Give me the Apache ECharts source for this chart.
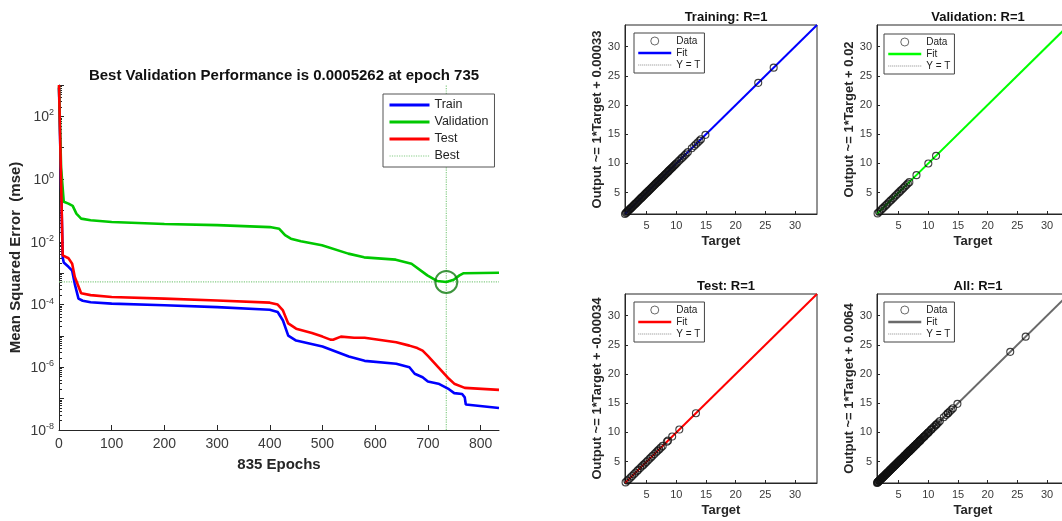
<!DOCTYPE html>
<html><head><meta charset="utf-8">
<script src="https://cdn.jsdelivr.net/npm/echarts@6/dist/echarts.min.js"></script>
<style>html,body{margin:0;padding:0;background:#fff}#c{width:1062px;height:521px}</style>
</head><body><div id="c"></div>
<script>
// ---------- performance plot data ----------
const trainEpochs = [0, 7, 9, 18, 25, 30, 37, 45, 60, 100, 200, 300, 400, 415, 425, 435, 450, 500, 550, 580, 640, 665, 675, 690, 700, 720, 740, 750, 765, 770, 772, 835];
const trainMSE = [800, 3.2e-3, 2.2e-3, 1.6e-3, 1.2e-3, 4.5e-4, 1.55e-4, 1.32e-4, 1.18e-4, 1.07e-4, 9.5e-5, 8.3e-5, 6.8e-5, 5.8e-5, 3.1e-5, 1.02e-5, 7.1e-6, 4.6e-6, 2.2e-6, 1.6e-6, 1.3e-6, 1.0e-6, 6.2e-7, 4.8e-7, 3.5e-7, 3.0e-7, 2.0e-7, 1.5e-7, 1.4e-7, 1.1e-7, 6.5e-8, 5.0e-8];
const valEpochs = [0, 4, 7, 9, 18, 26, 33, 42, 60, 100, 200, 300, 400, 418, 429, 440, 459, 499, 549, 579, 639, 669, 699, 718, 735, 749, 760, 768, 835];
const valMSE = [900, 2.3, 2.0, 0.19, 0.165, 0.14, 0.079, 0.055, 0.049, 0.043, 0.037, 0.034, 0.0295, 0.026, 0.0163, 0.0126, 0.0105, 0.0078, 0.0042, 0.0032, 0.0027, 0.002, 0.00085, 0.00056, 0.000526, 0.00062, 0.00085, 0.001, 0.00103];
const testEpochs = [0, 7, 10, 18, 25, 30, 42, 60, 100, 200, 300, 400, 415, 425, 435, 450, 480, 500, 515, 520, 535, 560, 580, 640, 665, 680, 690, 700, 720, 740, 750, 770, 835];
const testMSE = [1000, 3.7e-3, 3.5e-3, 3.0e-3, 2.0e-3, 7.6e-4, 2.3e-4, 2.0e-4, 1.74e-4, 1.55e-4, 1.35e-4, 1.15e-4, 1.0e-4, 6.5e-5, 2.5e-5, 1.7e-5, 1.23e-5, 9.5e-6, 7.6e-6, 7.5e-6, 9.5e-6, 8.7e-6, 8.7e-6, 6.3e-6, 4.9e-6, 4.1e-6, 3.4e-6, 2.3e-6, 1.0e-6, 4.3e-7, 3.0e-7, 2.2e-7, 1.9e-7];
const bestEpoch = 735;
const bestPerf = 0.0005262;
const totalEpochs = 835;
const epochTicks = [0, 100, 200, 300, 400, 500, 600, 700, 800];
const mseLabelExps = [-8, -6, -4, -2, 0, 2];
const mseRange = [1e-8, 1e3];

// ---------- regression plot data ----------
const trainTargets = [1.35,1.5,1.62,1.75,1.86,1.98,2.1,2.22,2.35,2.47,2.6,2.71,2.84,2.96,3.08,3.2,3.33,3.45,3.57,3.7,3.82,3.94,4.06,4.19,4.31,4.43,4.56,4.68,4.8,4.93,5.05,5.17,5.3,5.42,5.55,5.67,5.8,5.92,6.05,6.18,6.3,6.43,6.55,6.68,6.8,6.93,7.06,7.18,7.31,7.44,7.56,7.69,7.82,7.95,8.07,8.2,8.33,8.46,8.6,8.73,8.86,9.0,9.13,9.27,9.4,9.55,9.7,9.85,10.0,10.2,10.45,10.7,10.95,11.2,11.45,11.7,11.95,12.6,13.0,13.3,13.6,13.9,14.15,14.9,23.8,26.4];
const valTargets = [1.45,1.7,1.95,2.2,2.4,2.65,2.9,3.1,3.35,3.6,3.8,4.05,4.3,4.55,4.8,5.05,5.3,5.55,5.8,6.05,6.3,6.55,6.8,8.0,10.0,11.3];
const testTargets = [1.45,1.75,2.0,2.3,2.55,2.85,3.1,3.4,3.6,3.9,4.2,4.45,4.7,4.95,5.2,5.5,5.75,6.0,6.3,6.6,6.85,7.1,7.4,7.7,8.4,8.6,9.3,10.5,13.3];
const allTargets = trainTargets.concat(valTargets, testTargets);
const fitSlopes = [1, 1, 1, 1];
const fitIntercepts = [0.00033, 0.02, -0.00034, 0.0064];
const fitInterceptText = ['0.00033', '0.02', '-0.00034', '0.0064'];
const panelNames = ['Training', 'Validation', 'Test', 'All'];
const panelR = ['1', '1', '1', '1'];
const regLimits = [1.35, 33.7];
const regTicks = [5, 10, 15, 20, 25, 30];

// ---------- build ----------
const FONT = '"Liberation Sans", Arial, Helvetica, sans-serif';
const AX = '#262626';
const LBL = '#3a3a3a';
const chart = echarts.init(document.getElementById('c'));
const pairs = (xs, ys) => xs.map((x, i) => [x, ys[i]]);

const minorLogTicks = [];
for (let n = -8; n < 3; n++) for (let k = 2; k <= 9; k++) minorLogTicks.push(n + Math.log10(k));

const HIDE = {opacity: 0};
const title = [{
  text: 'Best Validation Performance is ' + bestPerf + ' at epoch ' + bestEpoch,
  left: 279, top: 63, textAlign: 'center',
  textStyle: {fontFamily: FONT, fontSize: 15, fontWeight: 'bold', color: '#111'}
}];
const grid = [{left: 59, top: 85, width: 440, height: 345, outerBoundsMode: 'none'}];
const xAxis = [{
  type: 'value', gridIndex: 0, min: 0, max: totalEpochs,
  name: totalEpochs + ' Epochs', nameLocation: 'middle', nameGap: 27,
  nameTextStyle: {fontFamily: FONT, fontSize: 15, fontWeight: 'bold', color: '#262626'},
  axisLine: {onZero: false, lineStyle: {color: AX, width: 1}},
  axisTick: {inside: true, length: 5, lineStyle: {color: AX}, customValues: epochTicks},
  axisLabel: {customValues: epochTicks, fontFamily: FONT, fontSize: 14, color: LBL, margin: 7},
  splitLine: {show: false}
}];
const yAxis = [{
  type: 'log', logBase: 10, gridIndex: 0, min: mseRange[0], max: mseRange[1], interval: 1,
  name: 'Mean Squared Error  (mse)', nameLocation: 'middle', nameGap: 36,
  nameTextStyle: {fontFamily: FONT, fontSize: 15, fontWeight: 'bold', color: '#262626'},
  axisLine: {onZero: false, lineStyle: {color: AX, width: 1}},
  axisTick: {inside: true, length: 5, lineStyle: {color: AX}},
  axisLabel: {
    margin: 5, color: LBL, fontFamily: FONT,
    formatter: v => {
      const e = Math.round(Math.log10(v));
      return mseLabelExps.indexOf(e) >= 0 ? '{b|10}{s|' + e + '}' : '';
    },
    rich: {
      b: {fontSize: 14, fontFamily: FONT, color: LBL, verticalAlign: 'bottom'},
      s: {fontSize: 9, fontFamily: FONT, color: LBL, verticalAlign: 'bottom', padding: [0, 0, 7, 0]}
    }
  },
  splitLine: {show: false}
}, {
  type: 'value', gridIndex: 0, min: -8, max: 3, position: 'left',
  axisLine: {show: false}, axisLabel: {show: false}, splitLine: {show: false},
  axisTick: {show: true, inside: true, length: 3, lineStyle: {color: AX}, customValues: minorLogTicks}
}];
const thin = {width: 1.2};
const legend = [{
  orient: 'vertical', left: 383, top: 94, selectedMode: false,
  data: [{name: 'Train', itemStyle: HIDE}, {name: 'Validation', itemStyle: HIDE}, {name: 'Test', itemStyle: HIDE}, {name: 'Best', itemStyle: HIDE, lineStyle: thin}],
  lineStyle: {width: 3},
  itemWidth: 40, itemHeight: 10, itemGap: 3, padding: [4, 6, 4, 5],
  borderColor: '#555', borderWidth: 1, backgroundColor: '#fff',
  textStyle: {fontFamily: FONT, fontSize: 12.5, color: '#222', lineHeight: 14}
}];
const bestLine = {type: 'dotted', color: '#86cc86', width: 1.2};
const series = [
  {name: 'Best', type: 'line', xAxisIndex: 0, yAxisIndex: 0, symbol: 'none', z: 1, lineStyle: bestLine,
   data: [[0, bestPerf], [totalEpochs, bestPerf]]},
  {name: 'Best', type: 'line', xAxisIndex: 0, yAxisIndex: 0, symbol: 'none', z: 1, lineStyle: bestLine,
   data: [[bestEpoch, mseRange[0]], [bestEpoch, mseRange[1]]]},
  {name: 'Train', type: 'line', xAxisIndex: 0, yAxisIndex: 0, data: pairs(trainEpochs, trainMSE), symbol: 'none', lineStyle: {color: '#0000ff', width: 2.6}, itemStyle: {color: '#0000ff'}, z: 3},
  {name: 'Validation', type: 'line', xAxisIndex: 0, yAxisIndex: 0, data: pairs(valEpochs, valMSE), symbol: 'none', lineStyle: {color: '#00c800', width: 2.6}, itemStyle: {color: '#00c800'}, z: 3},
  {name: 'Test', type: 'line', xAxisIndex: 0, yAxisIndex: 0, data: pairs(testEpochs, testMSE), symbol: 'none', lineStyle: {color: '#ff0000', width: 2.6}, itemStyle: {color: '#ff0000'}, z: 3},
  {name: 'bestMarker', type: 'scatter', xAxisIndex: 0, yAxisIndex: 0, data: [[bestEpoch, bestPerf]], symbol: 'circle', symbolSize: 22,
   itemStyle: {color: 'rgba(0,0,0,0)', borderColor: '#0d7a0d', borderWidth: 2}, z: 4}
];

const panelTargets = [trainTargets, valTargets, testTargets, allTargets];
const panelColors = ['#0000ff', '#00ff00', '#ff0000', '#6a6a6a'];
const panelGrid = [[625, 25], [877, 25], [625, 294], [877, 294]];
const panelLegend = [[634, 33], [884, 34], [634, 302], [884, 302]];
const gw = 192, gh = 189;
const circleStyle = {color: 'rgba(0,0,0,0)', borderColor: '#111', borderWidth: 1.1};

panelNames.forEach((nm, i) => {
  const gi = i + 1;
  const [gl, gt] = panelGrid[i];
  grid.push({left: gl, top: gt, width: gw, height: gh, show: true, borderColor: AX, borderWidth: 1, backgroundColor: '#fff', outerBoundsMode: 'none'});
  title.push({text: nm + ': R=' + panelR[i], left: gl + gw / 2, top: gt - 19, textAlign: 'center',
    textStyle: {fontFamily: FONT, fontSize: 13, fontWeight: 'bold', color: '#111'}});
  xAxis.push({
    type: 'value', gridIndex: gi, min: regLimits[0], max: regLimits[1],
    name: 'Target', nameLocation: 'middle', nameGap: 21,
    nameTextStyle: {fontFamily: FONT, fontSize: 13, fontWeight: 'bold', color: '#262626'},
    axisLine: {onZero: false, lineStyle: {color: AX}},
    axisTick: {inside: true, length: 3, customValues: regTicks, lineStyle: {color: AX}},
    axisLabel: {customValues: regTicks, fontFamily: FONT, fontSize: 11, color: LBL, margin: 6},
    splitLine: {show: false}
  });
  yAxis.push({
    type: 'value', gridIndex: gi, min: regLimits[0], max: regLimits[1],
    name: 'Output ~= ' + fitSlopes[i] + '*Target + ' + fitInterceptText[i], nameLocation: 'middle', nameGap: 13,
    nameTextStyle: {fontFamily: FONT, fontSize: 13, fontWeight: 'bold', color: '#262626'},
    axisLine: {onZero: false, lineStyle: {color: AX}},
    axisTick: {inside: true, length: 3, customValues: regTicks, lineStyle: {color: AX}},
    axisLabel: {customValues: regTicks, fontFamily: FONT, fontSize: 11, color: LBL, margin: 5},
    splitLine: {show: false}
  });
  const xi = gi, yi = gi + 1;
  series.push({name: 'Y = T#' + i, type: 'line', xAxisIndex: xi, yAxisIndex: yi, symbol: 'none',
    data: [[regLimits[0], regLimits[0]], [regLimits[1], regLimits[1]]],
    lineStyle: {type: 'dotted', color: '#8a8a8a', width: 1}, itemStyle: {color: '#8a8a8a'}, z: 2});
  series.push({name: 'Fit#' + i, type: 'line', xAxisIndex: xi, yAxisIndex: yi, symbol: 'none',
    data: regLimits.map(t => [t, fitSlopes[i] * t + fitIntercepts[i]]),
    lineStyle: {color: panelColors[i], width: 2}, itemStyle: {color: panelColors[i]}, z: 3});
  series.push({name: 'Data#' + i, type: 'scatter', xAxisIndex: xi, yAxisIndex: yi, symbol: 'circle', symbolSize: 7,
    data: panelTargets[i].map(t => [t, t]),
    itemStyle: circleStyle, z: 4});
  legend.push({
    orient: 'vertical', left: panelLegend[i][0], top: panelLegend[i][1], selectedMode: false,
    data: [
      {name: 'Data#' + i, icon: 'circle', itemStyle: {color: 'rgba(0,0,0,0)', borderColor: '#444', borderWidth: 1}},
      {name: 'Fit#' + i, itemStyle: HIDE, lineStyle: {width: 2.5}},
      {name: 'Y = T#' + i, itemStyle: HIDE, lineStyle: {width: 1}}
    ],
    formatter: n => n.split('#')[0],
    itemWidth: 33, itemHeight: 8, itemGap: 2, padding: [3, 4, 3, 3],
    borderColor: '#444', borderWidth: 1, backgroundColor: '#fff',
    textStyle: {fontFamily: FONT, fontSize: 10, color: '#222', lineHeight: 10}
  });
});

chart.setOption({
  animation: false,
  backgroundColor: '#fff',
  title, grid, xAxis, yAxis, legend, series
});
</script>
</body></html>
